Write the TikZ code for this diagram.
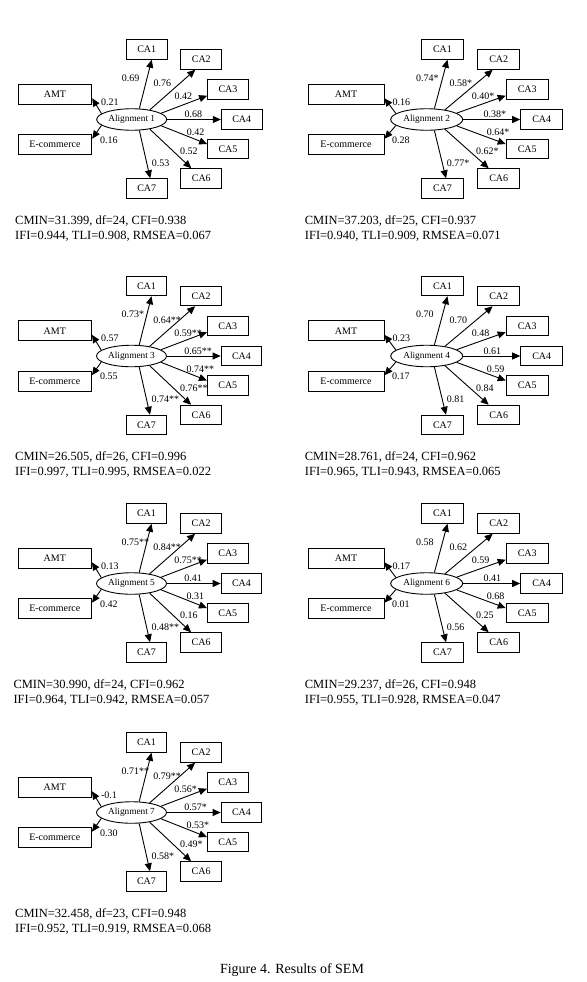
\documentclass[tikz,border=0pt]{standalone}
\usepackage{fontspec}
\setmainfont{Liberation Serif}
\usetikzlibrary{arrows.meta,calc,shapes.geometric}
\tikzset{
  cabox/.style={draw, line width=1pt, rectangle, inner sep=0pt, minimum height=19.5pt, font=\fontsize{10}{12}\selectfont},
  latent/.style={draw, line width=0.9pt, ellipse, inner sep=0pt, minimum height=21.5pt, font=\fontsize{9.3}{11}\selectfont},
  semarrow/.style={line width=0.9pt, -{Triangle[length=8pt,width=7pt]}},
  coef/.style={anchor=west, inner sep=0pt, font=\fontsize{10}{12}\selectfont},
  stat/.style={anchor=base west, inner sep=0pt, font=\fontsize{12.5}{15}\selectfont},
  capt/.style={inner sep=0pt, font=\fontsize{14}{16}\selectfont},
}
\newcommand\setlabs[9]{\def\labA{#1}\def\labB{#2}\def\labC{#3}\def\labD{#4}\def\labE{#5}\def\labF{#6}\def\labG{#7}\def\labH{#8}\def\labI{#9}}
% #1 prefix, #2 ex, #3 ey, #4 column flag, #5 number, #6 stats 1, #7 stats 2, #8 stats x
\newcommand\sempanel[8]{%
\begin{scope}[shift={(#2,#3)}]
\pgfmathsetmacro\cs{#4}
\pgfmathsetmacro\bw{40.7+1.3*\cs}
\pgfmathsetmacro\aw{73.4+2.6*\cs}
\pgfmathsetmacro\ew{70+2*\cs}
\node[latent, minimum width=\ew pt] (#1e) at (0,0) {Alignment #5};
\node[cabox, minimum width=\bw pt] (#1c1) at (15+0.8*\cs,-70) {CA1};
\node[cabox, minimum width=\bw pt] (#1c2) at (69.6+2.4*\cs,-60) {CA2};
\node[cabox, minimum width=\bw pt] (#1c3) at (96.3+4.2*\cs,-29.8) {CA3};
\node[cabox, minimum width=\bw pt] (#1c4) at (110+5*\cs,0) {CA4};
\node[cabox, minimum width=\bw pt] (#1c5) at (96.3+4.2*\cs,29.5) {CA5};
\node[cabox, minimum width=\bw pt] (#1c6) at (69.6+2.4*\cs,59) {CA6};
\node[cabox, minimum width=\bw pt] (#1c7) at (15+0.8*\cs,69) {CA7};
\node[cabox, minimum width=\aw pt, minimum height=20pt] (#1amt) at (-76.7-4*\cs,-25.2) {AMT};
\node[cabox, minimum width=\aw pt, minimum height=20pt] (#1ec) at (-76.7-4*\cs,25.2) {E-commerce};
\node[coef] (#1l1) at (-10-0.7*\cs,-41.5) {\labA};
\node[coef] (#1l2) at (21.6+1*\cs,-36.2) {\labB};
\node[coef] (#1l3) at (42.6+2.4*\cs,-22.8) {\labC};
\node[coef] (#1l4) at (52.6+4*\cs,-4.8) {\labD};
\node[coef] (#1l5) at (55+5*\cs,12.8) {\labE};
\node[coef] (#1l6) at (48.3+1*\cs,32.2) {\labF};
\node[coef] (#1l7) at (20,43.5) {\labG};
\node[coef] (#1l8) at (-30.7-3.5*\cs,-17.5) {\labH};
\node[coef] (#1l9) at (-31.7-3*\cs,20.5) {\labI};
\end{scope}
\draw[semarrow] (#1e.55) -- ($(#1c1.south)+(5,0)$);
\draw[semarrow] (#1e.28) -- ($(#1c2.south)+(-6,0)$);
\draw[semarrow] (#1e.12) -- ($(#1c3.west)+(0,6)$);
\draw[semarrow] (#1e.east) -- (#1c4.west);
\draw[semarrow] (#1e.-12) -- ($(#1c5.west)+(0,-5)$);
\draw[semarrow] (#1e.-28) -- ($(#1c6.north)+(-10,0)$);
\draw[semarrow] (#1e.-55) -- ($(#1c7.north)+(3.5,0)$);
\draw[semarrow] (#1e.169) -- ($(#1amt.east)+(0,4)$);
\draw[semarrow] (#1e.191) -- ($(#1ec.east)+(0,-6)$);
\node[stat] (#1s1) at (#8,#3+104.5) {#6};
\node[stat] (#1s2) at (#8,#3+119.5) {#7};
}
\begin{document}
\begin{tikzpicture}[x=1pt,y=-1pt]
\useasboundingbox (0,0) rectangle (586,982);
\setlabs{0.69}{0.76}{0.42}{0.68}{0.42}{0.52}{0.53}{0.21}{0.16}
\sempanel{pa}{131.7}{119.5}{0}{1}{CMIN=31.399, df=24, CFI=0.938}{IFI=0.944, TLI=0.908, RMSEA=0.067}{15}
\setlabs{0.74*}{0.58*}{0.40*}{0.38*}{0.64*}{0.62*}{0.77*}{0.16}{0.28}
\sempanel{pb}{426.7}{119.5}{1}{2}{CMIN=37.203, df=25, CFI=0.937}{IFI=0.940, TLI=0.909, RMSEA=0.071}{304.7}
\setlabs{0.73*}{0.64**}{0.59**}{0.65**}{0.74**}{0.76**}{0.74**}{0.57}{0.55}
\sempanel{pc}{131.5}{356}{0}{3}{CMIN=26.505, df=26, CFI=0.996}{IFI=0.997, TLI=0.995, RMSEA=0.022}{15}
\setlabs{0.70}{0.70}{0.48}{0.61}{0.59}{0.84}{0.81}{0.23}{0.17}
\sempanel{pd}{426.7}{356}{1}{4}{CMIN=28.761, df=24, CFI=0.962}{IFI=0.965, TLI=0.943, RMSEA=0.065}{304.7}
\setlabs{0.75**}{0.84**}{0.75**}{0.41}{0.31}{0.16}{0.48**}{0.13}{0.42}
\sempanel{pe}{131.5}{583.5}{0}{5}{CMIN=30.990, df=24, CFI=0.962}{IFI=0.964, TLI=0.942, RMSEA=0.057}{13.3}
\setlabs{0.58}{0.62}{0.59}{0.41}{0.68}{0.25}{0.56}{0.17}{0.01}
\sempanel{pf}{426.7}{583.5}{1}{6}{CMIN=29.237, df=26, CFI=0.948}{IFI=0.955, TLI=0.928, RMSEA=0.047}{304.7}
\setlabs{0.71**}{0.79**}{0.56*}{0.57*}{0.53*}{0.49*}{0.58*}{-0.1}{0.30}
\sempanel{pg}{131.5}{812.5}{0}{7}{CMIN=32.458, df=23, CFI=0.948}{IFI=0.952, TLI=0.919, RMSEA=0.068}{15}
\node[capt] (caption) at (292,970) {Figure 4. Results of SEM};
\end{tikzpicture}
\end{document}
